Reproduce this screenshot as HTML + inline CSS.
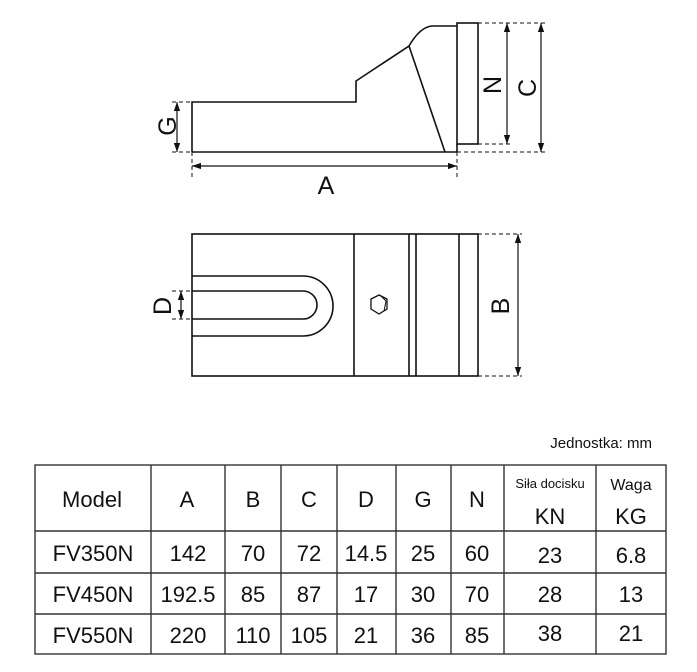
<!DOCTYPE html>
<html><head><meta charset="utf-8"><style>
html,body{margin:0;padding:0;background:#fff;}
svg{display:block;}
text{font-family:"Liberation Sans",sans-serif;fill:#111;}
</style></head><body>
<svg width="697" height="672" viewBox="0 0 697 672" xmlns="http://www.w3.org/2000/svg">
<defs>
<marker id="ar" viewBox="0 0 10 10" refX="10" refY="5" markerWidth="9" markerHeight="9" markerUnits="userSpaceOnUse" orient="auto-start-reverse"><path d="M0,1.5 L10,5 L0,8.5 z" fill="#111"/></marker>
</defs>
<g stroke="#111" stroke-width="1.6" fill="none">
<path d="M192,152 L192,102 L356,102 L356,81 L409,46 Q420,27 432,26 L457,26"/>
<line x1="192" y1="152" x2="457" y2="152"/>
<line x1="409" y1="46" x2="445" y2="152"/>
<rect x="457" y="23" width="21" height="121"/>
<line x1="457" y1="144" x2="457" y2="152"/>
</g>
<g stroke="#111" stroke-width="1" fill="none" stroke-dasharray="4,3">
<line x1="172" y1="102" x2="192" y2="102"/>
<line x1="172" y1="152" x2="192" y2="152"/>
<line x1="478" y1="23" x2="546" y2="23"/>
<line x1="478" y1="144" x2="510" y2="144"/>
<line x1="457" y1="152" x2="546" y2="152"/>
<line x1="192" y1="152" x2="192" y2="178"/>
<line x1="457" y1="152" x2="457" y2="178"/>
<line x1="172" y1="291" x2="192" y2="291"/>
<line x1="172" y1="319" x2="192" y2="319"/>
<line x1="478" y1="234" x2="522" y2="234"/>
<line x1="478" y1="376" x2="522" y2="376"/>
</g>
<g stroke="#111" stroke-width="1.2" fill="none">
<line x1="177" y1="102" x2="177" y2="152" marker-start="url(#ar)" marker-end="url(#ar)"/>
<line x1="507" y1="23" x2="507" y2="144" marker-start="url(#ar)" marker-end="url(#ar)"/>
<line x1="541" y1="23" x2="541" y2="152" marker-start="url(#ar)" marker-end="url(#ar)"/>
<line x1="192" y1="166" x2="457" y2="166" marker-start="url(#ar)" marker-end="url(#ar)"/>
<line x1="181" y1="291" x2="181" y2="319" marker-start="url(#ar)" marker-end="url(#ar)"/>
<line x1="518" y1="234" x2="518" y2="376" marker-start="url(#ar)" marker-end="url(#ar)"/>
</g>
<text x="326" y="194" font-size="25" text-anchor="middle">A</text>
<text transform="translate(176,126) rotate(-90)" font-size="25" text-anchor="middle">G</text>
<text transform="translate(501,85) rotate(-90)" font-size="25" text-anchor="middle">N</text>
<text transform="translate(536,88) rotate(-90)" font-size="25" text-anchor="middle">C</text>
<text transform="translate(171,306) rotate(-90)" font-size="25" text-anchor="middle">D</text>
<text transform="translate(509,306) rotate(-90)" font-size="25" text-anchor="middle">B</text>
<g stroke="#111" stroke-width="1.6" fill="none">
<rect x="192" y="234" width="286" height="142"/>
<line x1="354" y1="234" x2="354" y2="376"/>
<line x1="409" y1="234" x2="409" y2="376"/>
<line x1="416" y1="234" x2="416" y2="376"/>
<line x1="459" y1="234" x2="459" y2="376"/>
<path d="M192,276 L303,276 A30,30 0 0 1 303,336 L192,336"/>
<path d="M192,291 L303,291 A14,14 0 0 1 303,319 L192,319"/>
<polygon points="371,299 379,295 387,299 387,309 379,314 371,309" stroke-width="1.3"/>
<line x1="380" y1="295" x2="386" y2="301" stroke-width="1"/>
<line x1="386" y1="301" x2="384" y2="311" stroke-width="1"/>
</g>
<text x="652" y="448" font-size="15" text-anchor="end">Jednostka: mm</text>
<g stroke="#333" stroke-width="1.4" fill="none">
<rect x="35" y="465" width="631" height="189"/>
<line x1="35" y1="531" x2="666" y2="531"/>
<line x1="35" y1="573" x2="666" y2="573"/>
<line x1="35" y1="614" x2="666" y2="614"/>
<line x1="151" y1="465" x2="151" y2="654"/>
<line x1="225" y1="465" x2="225" y2="654"/>
<line x1="281" y1="465" x2="281" y2="654"/>
<line x1="337" y1="465" x2="337" y2="654"/>
<line x1="396" y1="465" x2="396" y2="654"/>
<line x1="451" y1="465" x2="451" y2="654"/>
<line x1="504" y1="465" x2="504" y2="654"/>
<line x1="596" y1="465" x2="596" y2="654"/>
</g>
<g font-size="22" text-anchor="middle">
<text x="92" y="507">Model</text>
<text x="187" y="507">A</text>
<text x="253" y="507">B</text>
<text x="309" y="507">C</text>
<text x="366" y="507">D</text>
<text x="423" y="507">G</text>
<text x="477" y="507">N</text>
<text x="550" y="488" font-size="13">Siła docisku</text>
<text x="550" y="524">KN</text>
<text x="631" y="490" font-size="16">Waga</text>
<text x="631" y="524">KG</text>
<text x="93" y="561">FV350N</text><text x="188" y="561">142</text><text x="253" y="561">70</text><text x="309" y="561">72</text><text x="366" y="561">14.5</text><text x="423" y="561">25</text><text x="477" y="561">60</text><text x="550" y="563">23</text><text x="631" y="563">6.8</text>
<text x="93" y="602">FV450N</text><text x="188" y="602">192.5</text><text x="253" y="602">85</text><text x="309" y="602">87</text><text x="366" y="602">17</text><text x="423" y="602">30</text><text x="477" y="602">70</text><text x="550" y="602">28</text><text x="631" y="602">13</text>
<text x="93" y="643">FV550N</text><text x="188" y="643">220</text><text x="253" y="643">110</text><text x="309" y="643">105</text><text x="366" y="643">21</text><text x="423" y="643">36</text><text x="477" y="643">85</text><text x="550" y="641">38</text><text x="631" y="641">21</text>
</g>
</svg>
</body></html>
